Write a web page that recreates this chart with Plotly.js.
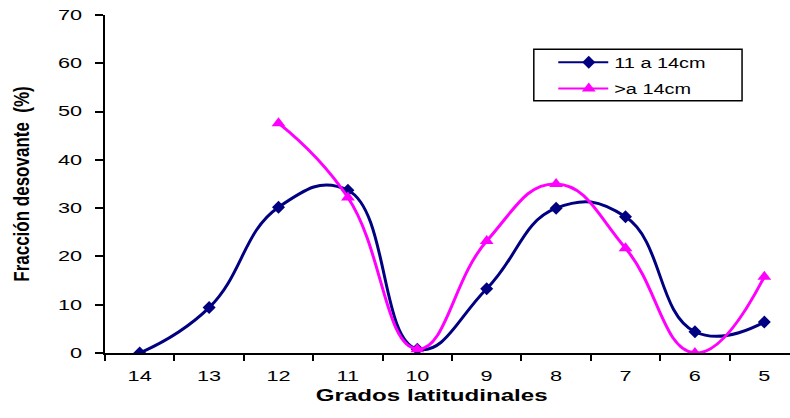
<!DOCTYPE html>
<html><head><meta charset="utf-8">
<script src="https://cdn.plot.ly/plotly-3.0.1.min.js"></script>
<style>html,body{margin:0;padding:0;background:#fff}#chart{width:790px;height:418px}</style>
</head><body><div id="chart"></div>
<script>
const categories = ["14","13","12","11","10","9","8","7","6","5"];
const serie11a14 = [0, 9.4, 30.2, 33.7, 0.8, 13.3, 30.0, 28.2, 4.4, 6.4];
const serieMayor14 = [null, null, 47.6, 32.2, 0.8, 23.2, 35.0, 21.7, 0.0, 15.8];
const refLineX = [-0.36, 7.95];
const refLineY = [20.2, 20.0];
const seriesNames = ["11 a 14cm", ">a 14cm"];
const xTitle = "Grados latitudinales";
const yTitle = "Fracción desovante  (%)";

const traces = [
  {x: categories, y: serie11a14, name: seriesNames[0], legendgroup: "a", type: "scatter", mode: "lines+markers",
   line: {color: "#000080", width: 3, shape: "spline", smoothing: 1.3},
   marker: {symbol: "diamond", size: 10, color: "#000080"}},
  {x: categories, y: serieMayor14, name: seriesNames[1], legendgroup: "b", type: "scatter", mode: "lines+markers",
   line: {color: "#FF00FF", width: 3, shape: "spline", smoothing: 1.3},
   marker: {symbol: "triangle-up", size: 12, color: "#FF00FF"}},
  {x: refLineX, y: refLineY, type: "scatter", mode: "lines", showlegend: false, hoverinfo: "skip",
   line: {color: "#A01010", width: 1.3, dash: "dot"}}
];

const layout = {
  width: 790, height: 418,
  margin: {l: 105, r: 0, t: 15, b: 65},
  paper_bgcolor: "#fff", plot_bgcolor: "#fff",
  font: {family: "Liberation Sans, Arial, sans-serif", color: "#000", size: 14},
  showlegend: true,
  legend: {x: 0.669, y: 0.906, xanchor: "left", yanchor: "top", borderwidth: 0,
           bgcolor: "rgba(0,0,0,0)", font: {size: 14}, traceorder: "grouped", tracegroupgap: 5,
           itemwidth: 41},
  shapes: [{type: "rect", xref: "paper", yref: "paper", x0: 0.626, x1: 0.93, y0: 0.746, y1: 0.899,
            line: {color: "#000", width: 1.5}, fillcolor: "#fff", layer: "below"}],
  annotations: [{text: "<b>" + xTitle + "</b>", xref: "paper", yref: "paper", x: 0.476, y: -0.125,
                 xanchor: "center", yanchor: "middle", showarrow: false, font: {size: 17}}],
  xaxis: {type: "category", range: [-0.5, 9.37], tickson: "boundaries", ticks: "outside", ticklen: 6,
          tickwidth: 2, tickcolor: "#000", showline: true, linecolor: "#000", linewidth: 2,
          showgrid: false, zeroline: false, tickfont: {size: 14}, ticklabelstandoff: 9},
  yaxis: {range: [0, 70], dtick: 10, ticks: "outside", ticklen: 8, tickwidth: 2, tickcolor: "#000",
          showline: true, linecolor: "#000", linewidth: 2, showgrid: false, zeroline: false,
          tickfont: {size: 14}, ticklabelstandoff: 10,
          title: {text: "<b>" + yTitle + "</b>", font: {size: 17}, standoff: 35}}
};

function stretch(sel, sx, sy) {
  document.querySelectorAll(sel).forEach(t => {
    const bb = t.getBBox();
    const anchor = t.getAttribute("text-anchor") || "start";
    const cx = anchor === "middle" ? bb.x + bb.width / 2 : anchor === "end" ? bb.x + bb.width : bb.x;
    const cy = bb.y + bb.height / 2;
    const tr = t.getAttribute("transform") || "";
    t.setAttribute("transform", tr + " translate(" + cx + "," + cy + ") scale(" + sx + "," + sy + ") translate(" + (-cx) + "," + (-cy) + ")");
  });
}

Plotly.newPlot("chart", traces, layout, {displayModeBar: false, staticPlot: true}).then(() => {
  stretch(".xtick text", 1.55, 1);
  stretch(".ytick text", 1.55, 1);
  stretch(".legendtext", 1.42, 1);
  stretch(".annotation-text", 1.42, 1);
  stretch(".ytitle", 1, 1.35);
  document.querySelectorAll(".legend, .legend [clip-path]").forEach(e => e.removeAttribute("clip-path"));
  document.querySelectorAll(".legend .legendlines path.js-line").forEach(p => {
    p.setAttribute("d", "M-5,0h50");
    p.style.strokeWidth = "2px";
  });
});
</script></body></html>
